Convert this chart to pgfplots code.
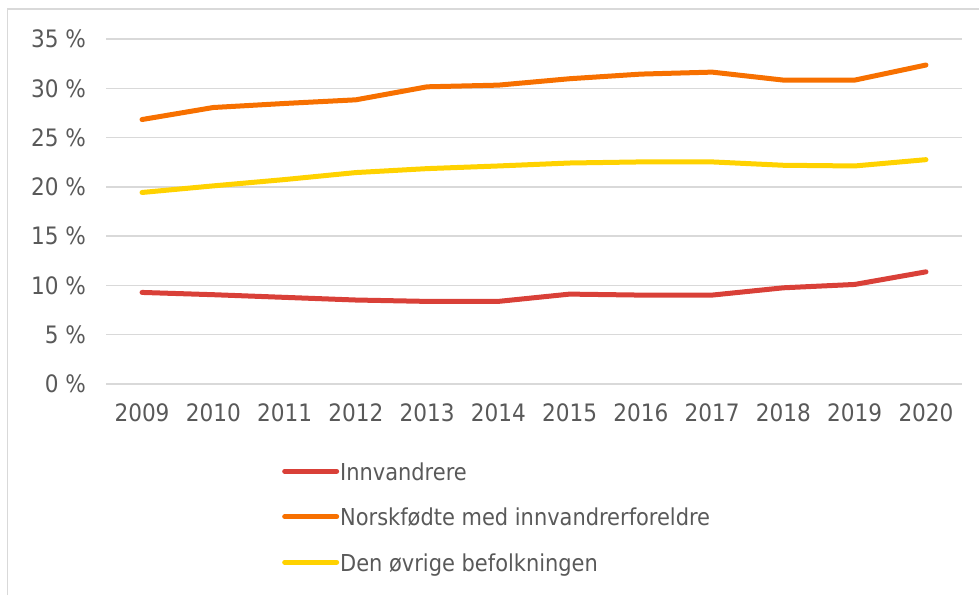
\documentclass[border=0pt]{standalone}
\usepackage{pgfplots}
\pgfplotsset{compat=1.18}
\usepackage{fontspec}
\setmainfont{DejaVu Sans Condensed}
\definecolor{cred}{RGB}{217,64,56}
\definecolor{corange}{RGB}{247,112,0}
\definecolor{cyellow}{RGB}{255,210,0}
\definecolor{cgrid}{RGB}{217,217,217}
\definecolor{ctext}{RGB}{89,89,89}
\begin{document}
\begin{tikzpicture}
\useasboundingbox (0pt,0pt) rectangle (979pt,595pt);
\draw[cgrid,line width=1.5pt] (7.5pt,0pt) -- (7.5pt,586pt) -- (979pt,586pt);
\begin{axis}[
  at={(106.4pt,211pt)}, anchor=south west,
  scale only axis, width=855.2pt, height=345pt,
  xmin=-0.5, xmax=11.5, ymin=0, ymax=35,
  xtick={0,...,11},
  xticklabels={2009,2010,2011,2012,2013,2014,2015,2016,2017,2018,2019,2020},
  ytick={0,5,...,35},
  yticklabels={0 \%,5 \%,10 \%,15 \%,20 \%,25 \%,30 \%,35 \%},
  axis line style={draw=none},
  major tick length=0pt,
  ymajorgrids, grid style={cgrid,line width=1.5pt},
  ticklabel style={font=\fontsize{24}{28}\selectfont, text=ctext},
  yticklabel style={xshift=-17pt},
  xticklabel style={yshift=-16pt},
  legend cell align=left,
  legend style={at={(axis description cs:0.2053,-0.2319)}, anchor=north west,
    draw=none, fill=none, inner sep=0pt,
    font=\fontsize{23.3}{27}\selectfont, text=ctext,
    row sep=24.5pt,
    nodes={inner sep=0pt, text height=16pt, text depth=5pt},
    /tikz/every odd column/.style={column sep=1pt}},
  legend image code/.code={\draw[#1] (2.5pt,3.5pt) -- (54.5pt,3.5pt);},
  every axis plot/.append style={line width=5pt, line cap=round, line join=round},
]
\addplot[cred] coordinates {(0,9.29) (1,9.06) (2,8.79) (3,8.52) (4,8.38) (5,8.38) (6,9.12) (7,9.02) (8,9.02) (9,9.76) (10,10.1) (11,11.38)};
\addlegendentry{Innvandrere}
\addplot[corange] coordinates {(0,26.83) (1,28.05) (2,28.46) (3,28.83) (4,30.15) (5,30.32) (6,30.97) (7,31.44) (8,31.64) (9,30.83) (10,30.83) (11,32.36)};
\addlegendentry{Norskfødte med innvandrerforeldre}
\addplot[cyellow] coordinates {(0,19.43) (1,20.1) (2,20.74) (3,21.45) (4,21.85) (5,22.12) (6,22.42) (7,22.53) (8,22.53) (9,22.19) (10,22.12) (11,22.76)};
\addlegendentry{Den øvrige befolkningen}
\end{axis}
\end{tikzpicture}
\end{document}
